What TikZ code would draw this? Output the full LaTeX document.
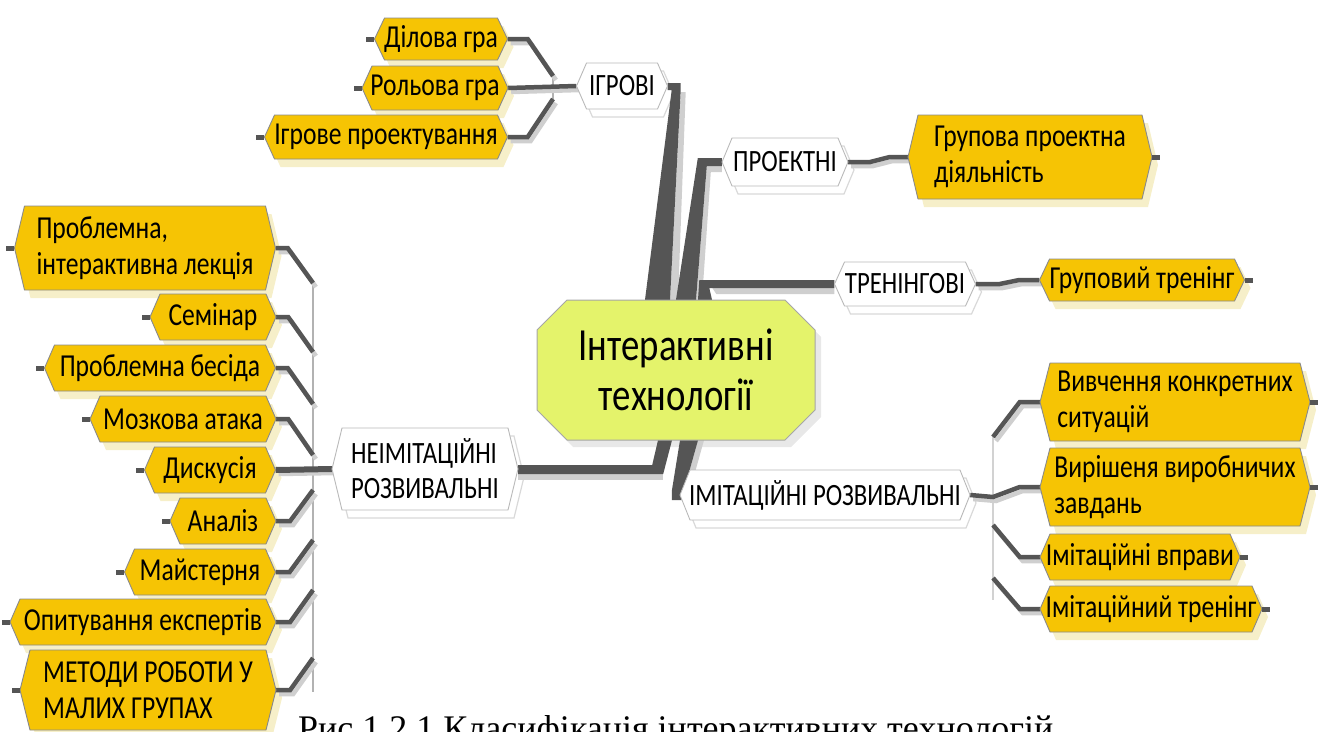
\documentclass[tikz,border=0pt]{standalone}
\usepackage{fontspec}
\setmainfont{Liberation Serif}
\newfontfamily\nf[FakeStretch=0.8]{Carlito}
\usetikzlibrary{calc,backgrounds}
\definecolor{ygold}{HTML}{F6C404}
\definecolor{yshadow}{HTML}{F6EFC9}
\definecolor{limec}{HTML}{E4F36B}
\definecolor{darkc}{HTML}{555555}
\definecolor{lightc}{HTML}{CFCFCF}
\definecolor{edgec}{HTML}{8A8A8A}
\tikzset{
 yfill/.style={fill=ygold, draw=edgec, line width=0.9pt, line join=round},
 yshade/.style={fill=yshadow},
 ytext/.style={font=\nf\fontsize{32}{36}\selectfont, align=left, inner sep=0pt},
 wfill/.style={fill=white, draw=gray!55, line width=0.9pt},
 wshade/.style={fill=white, draw=gray!30, line width=1.2pt},
 wtext/.style={font=\nf\fontsize{31}{35}\selectfont, align=left, inner sep=0pt},
 cfill/.style={fill=limec, draw=gray!70, line width=1pt},
 cshade/.style={fill=gray!18},
 ctext/.style={font=\nf\fontsize{46}{50}\selectfont, align=center, inner sep=0pt},
 br/.style={draw=darkc, line width=4.5pt, line join=miter,
   preaction={draw=lightc, line width=4.5pt, transform canvas={shift={(3pt,-4pt)}}}},
 bus/.style={draw=gray!60, line width=1.2pt},
 rbus/.style={draw=gray!35, line width=1.2pt},
 trunk/.style={fill=darkc},
 trunkshade/.style={fill=lightc},
 stub/.style={draw=darkc, line width=5pt},
}
% #1 kind (y/w), #2 name, #3 x, #4 y, #5 width, #6 height, #7 text
\newcommand\hexnode[7]{%
 \begin{pgfonlayer}{background}
 \path[#1shade] (#3-#5/2+16,#4-#6/2+8) -- (#3+#5/2-4,#4-#6/2+8) -- (#3+#5/2+6,#4+8) -- (#3+#5/2-4,#4+#6/2+8) -- (#3-#5/2+16,#4+#6/2+8) -- (#3-#5/2+6,#4+8) -- cycle;
 \end{pgfonlayer}
 \path[#1fill] (#3-#5/2+10,#4-#6/2) -- (#3+#5/2-10,#4-#6/2) -- (#3+#5/2,#4) -- (#3+#5/2-10,#4+#6/2) -- (#3-#5/2+10,#4+#6/2) -- (#3-#5/2,#4) -- cycle;
 \node[#1text, minimum width=#5pt, minimum height=#6pt] (#2) at (#3,#4) {#7};
}
\begin{document}
\begin{tikzpicture}[x=1pt,y=-1pt]
\useasboundingbox (0,0) rectangle (1322,731);
\clip (0,0) rectangle (1322,731);

% centre
\begin{pgfonlayer}{background}
\path[cshade] (573,307) -- (791,307) -- (821,337) -- (821,417) -- (791,447) -- (573,447) -- (543,417) -- (543,337) -- cycle;
\end{pgfonlayer}
\path[cfill] (567,300) -- (785,300) -- (815,330) -- (815,410) -- (785,440) -- (567,440) -- (537,410) -- (537,330) -- cycle;
\node[ctext, minimum width=278pt, minimum height=140pt] (C) at (676,370) {Інтерактивні\\технології};

% nodes
\hexnode{y}{dilova}{441}{39}{133}{42}{Ділова гра}
\hexnode{y}{rolova}{435}{88}{146}{44}{Рольова гра}
\hexnode{y}{igrpr}{386}{137}{243}{44}{Ігрове проектування}
\hexnode{w}{igrovi}{622}{86}{91}{46}{ІГРОВІ}
\hexnode{w}{proektni}{785}{162}{126}{48}{ПРОЕКТНІ}
\hexnode{y}{grpr}{1030}{157}{244}{84}{Групова проектна\\діяльність}
\hexnode{w}{trening}{905}{284}{141}{44}{ТРЕНІНГОВІ}
\hexnode{y}{grtr}{1142}{280}{205}{42}{Груповий тренінг}
\hexnode{w}{imit}{825}{495}{290}{50}{ІМІТАЦІЙНІ РОЗВИВАЛЬНІ}
\hexnode{y}{vyvch}{1175}{402}{270}{78}{Вивчення конкретних\\ситуацій}
\hexnode{y}{vyrish}{1175}{487}{270}{78}{Вирішеня виробничих\\завдань}
\hexnode{y}{imvpr}{1140}{557}{200}{46}{Імітаційні вправи}
\hexnode{y}{imtr}{1151}{609}{222}{46}{Імітаційний тренінг}
\hexnode{w}{neimit}{425}{469}{186}{82}{НЕІМІТАЦІЙНІ\\РОЗВИВАЛЬНІ}
\hexnode{y}{problect}{145}{248}{261}{84}{Проблемна,\\інтерактивна лекція}
\hexnode{y}{seminar}{213}{317}{126}{46}{Семінар}
\hexnode{y}{besida}{160}{368}{231}{46}{Проблемна бесіда}
\hexnode{y}{mozk}{183}{419}{186}{46}{Мозкова атака}
\hexnode{y}{dysk}{210}{470}{131}{46}{Дискусія}
\hexnode{y}{analiz}{223}{521}{106}{46}{Аналіз}
\hexnode{y}{maist}{200}{572}{151}{46}{Майстерня}
\hexnode{y}{opyt}{143}{622}{266}{46}{Опитування експертів}
\hexnode{y}{metody}{148}{690}{256}{80}{МЕТОДИ РОБОТИ У\\МАЛИХ ГРУПАХ}

% stubs
\foreach \n in {dilova,rolova,igrpr,problect,seminar,besida,mozk,dysk,analiz,maist,opyt,metody}
  \draw[stub] (\n.west) -- ($(\n.west)+(-8,0)$);
\foreach \n in {grpr,grtr,vyvch,vyrish,imvpr,imtr}
  \draw[stub] (\n.east) -- ($(\n.east)+(8,0)$);

\begin{pgfonlayer}{background}
% trunks from the centre
\fill[trunkshade] ($(igrovi.east)+(13,6)$) -- ($(igrovi.east)+(18,6)$) -- ($(C.north)+(2,0)$) -- ($(C.north)+(-6,0)$) -- cycle;
\fill[trunk] ($(igrovi.east)+(0,-3)$) -- ($(igrovi.east)+(13,-3)$) -- ($(igrovi.east)+(13,4)$) -- ($(C.north)+(-6,0)$) -- ($(C.north)+(-31,0)$) -- ($(igrovi.east)+(4,4)$) -- ($(igrovi.east)+(0,4)$) -- cycle;

\fill[trunkshade] ($(proektni.west)+(-15,4)$) -- ($(proektni.west)+(0,4)$) -- ($(proektni.west)+(0,10)$) -- ($(proektni.west)+(-11,10)$) -- ($(C.north)+(26,0)$) -- ($(C.north)+(20,0)$) -- cycle;
\fill[trunk] ($(proektni.west)+(0,-4)$) -- ($(proektni.west)+(-24,-4)$) -- ($(C.north)+(0,0)$) -- ($(C.north)+(20,0)$) -- ($(proektni.west)+(-15,4)$) -- ($(proektni.west)+(0,4)$) -- cycle;

\fill[trunkshade] ($(trening.west)+(-122,4)$) -- ($(trening.west)+(0,4)$) -- ($(trening.west)+(0,10)$) -- ($(trening.west)+(-118,10)$) -- cycle;
\fill[trunk] ($(trening.west)+(0,-4)$) -- ($(trening.west)+(-135,-4)$) -- ($(C.north)+(22,0)$) -- ($(C.north)+(36,0)$) -- ($(trening.west)+(-125,4)$) -- ($(trening.west)+(0,4)$) -- cycle;

\fill[trunkshade] ($(neimit.east)+(0,5)$) -- ($(neimit.east)+(145,5)$) -- ($(neimit.east)+(145,11)$) -- ($(neimit.east)+(0,11)$) -- cycle;
\fill[trunk] ($(neimit.east)+(0,-4)$) -- ($(neimit.east)+(134,-4)$) -- ($(C.south)+(-18,0)$) -- ($(C.south)+(-4,0)$) -- ($(neimit.east)+(145,5)$) -- ($(neimit.east)+(0,5)$) -- cycle;

\fill[trunkshade] ($(C.south)+(22,0)$) -- ($(C.south)+(28,0)$) -- ($(imit.west)+(10,-4)$) -- ($(imit.west)+(4,-4)$) -- cycle;
\fill[trunk] ($(C.south)+(4,0)$) -- ($(C.south)+(22,0)$) -- ($(imit.west)+(4,-4)$) -- ($(imit.west)+(4,5)$) -- ($(imit.west)+(-8,5)$) -- ($(imit.west)+(-8,-4)$) -- cycle;

% ІГРОВІ group
\coordinate (gb1) at (553,76);
\coordinate (gb2) at (553,99);
\draw[bus] (gb1) -- (gb2);
\draw[br] (dilova.east) -- ($(dilova.east)+(20,0)$) -- (gb1);
\draw[br] (rolova.east) -- (igrovi.west);
\draw[br] (igrpr.east) -- ($(igrpr.east)+(20,0)$) -- (gb2);

% right singles
\draw[br] (proektni.east) -- ($(proektni.east)+(22,0)$) -- ($(grpr.west)+(-18,0)$) -- (grpr.west);
\draw[br] (trening.east) -- ($(trening.east)+(24,0)$) -- ($(grtr.west)+(-20,0)$) -- (grtr.west);

% right group
\coordinate (rb1) at (993,437);
\coordinate (rb2) at (993,497);
\coordinate (rb3) at (993,525);
\coordinate (rb4) at (993,578);
\coordinate (rbend) at (993,600);
\draw[rbus] (rb1) -- (rbend);
\draw[br] (rb1) -- ($(vyvch.west)+(-20,0)$) -- (vyvch.west);
\draw[br] (imit.east) -- (rb2) -- ($(vyrish.west)+(-20,0)$) -- (vyrish.west);
\draw[br] (rb3) -- ($(imvpr.west)+(-20,0)$) -- (imvpr.west);
\draw[br] (rb4) -- ($(imtr.west)+(-20,0)$) -- (imtr.west);

% left group
\coordinate (lb1) at (313,283);
\coordinate (lb2) at (313,352);
\coordinate (lb3) at (313,404);
\coordinate (lb4) at (313,455);
\coordinate (lb6) at (313,490);
\coordinate (lb7) at (313,540);
\coordinate (lb8) at (313,590);
\coordinate (lb9) at (313,658);
\coordinate (lbend) at (313,692);
\draw[bus] (lb1) -- (lbend);
\draw[br] (problect.east) -- ($(problect.east)+(12,0)$) -- (lb1);
\draw[br] (seminar.east) -- ($(seminar.east)+(12,0)$) -- (lb2);
\draw[br] (besida.east) -- ($(besida.east)+(12,0)$) -- (lb3);
\draw[br] (mozk.east) -- ($(mozk.east)+(12,0)$) -- (lb4);
\draw[br, line width=6pt] (dysk.east) -- (neimit.west);
\draw[br] (analiz.east) -- ($(analiz.east)+(14,0)$) -- (lb6);
\draw[br] (maist.east) -- ($(maist.east)+(14,0)$) -- (lb7);
\draw[br] (opyt.east) -- ($(opyt.east)+(14,0)$) -- (lb8);
\draw[br] (metody.east) -- ($(metody.east)+(14,0)$) -- (lb9);
\end{pgfonlayer}

% caption (cut by the lower edge, as in the source)
\node[font=\fontsize{36}{40}\selectfont, anchor=base west, inner sep=0pt] (cap) at (298,740) {Рис 1.2.1 Класифікація інтерактивних технологій};
\end{tikzpicture}
\end{document}
